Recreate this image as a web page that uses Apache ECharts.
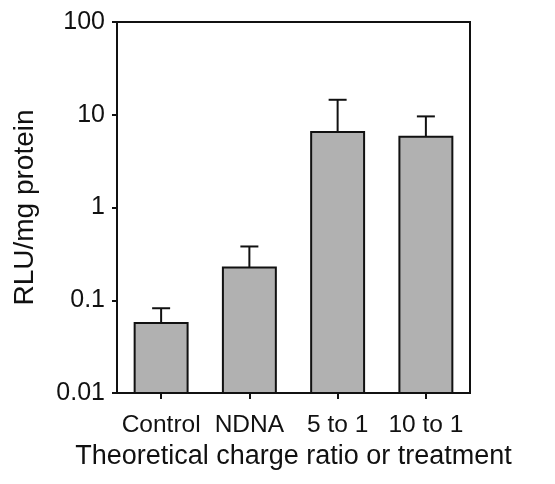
<!DOCTYPE html>
<html><head><meta charset="utf-8">
<script src="https://cdn.jsdelivr.net/npm/echarts@6/dist/echarts.min.js"></script>
<style>html,body{margin:0;padding:0;background:#fff}#c{width:555px;height:484px}</style>
</head><body><div id="c"></div>
<script>
const categories = ['Control', 'NDNA', '5 to 1', '10 to 1'];
const meanValues = [0.057, 0.226, 6.5, 5.8];
const upperErrors = [0.082, 0.38, 14.5, 9.6];
const yTicks = [0.01, 0.1, 1, 10, 100];

const chart = echarts.init(document.getElementById('c'));
const font = 'Liberation Sans, Arial, sans-serif';
const axisMin = yTicks[0];
chart.setOption({
  animation: false,
  grid: { left: 117, right: 85, top: 22, bottom: 91, show: true, borderColor: '#111', borderWidth: 2, backgroundColor: 'transparent' },
  xAxis: {
    type: 'category', data: categories,
    axisLine: { lineStyle: { color: '#111', width: 2 } },
    axisTick: { show: true, alignWithLabel: true, length: 6, lineStyle: { color: '#111', width: 2 } },
    axisLabel: { color: '#111', fontSize: 24.5, fontFamily: font, margin: 20, interval: 0, hideOverlap: false },
    name: 'Theoretical charge ratio or treatment', nameLocation: 'middle', nameGap: 50,
    nameTextStyle: { color: '#111', fontSize: 27, fontFamily: font }
  },
  yAxis: {
    type: 'log', logBase: 10, min: axisMin, max: yTicks[yTicks.length - 1],
    axisLine: { show: true, lineStyle: { color: '#111', width: 2 } },
    axisTick: { show: true, length: 5, lineStyle: { color: '#111', width: 2 } },
    splitLine: { show: false },
    minorTick: { show: false },
    axisLabel: { color: '#111', fontSize: 25, fontFamily: font, margin: 12,
      formatter: v => { const m = yTicks.find(t => Math.abs(Math.log10(t) - Math.log10(v)) < 1e-6); return m !== undefined ? String(m) : ''; } },
    name: 'RLU/mg protein', nameLocation: 'middle', nameGap: 78,
    nameTextStyle: { color: '#111', fontSize: 28, fontFamily: font }
  },
  series: [
    {
      type: 'custom', z: 2,
      data: categories.map((c, i) => [i, meanValues[i]]),
      renderItem: function (params, api) {
        const top = api.coord([api.value(0), api.value(1)]);
        const base = api.coord([api.value(0), axisMin]);
        const w = api.size([1, 0])[0] * 0.6;
        return {
          type: 'rect',
          shape: { x: top[0] - w / 2, y: top[1], width: w, height: base[1] - top[1] },
          style: { fill: '#b1b1b1', stroke: '#111', lineWidth: 2 }
        };
      }
    },
    {
      type: 'custom', z: 1,
      data: categories.map((c, i) => [i, meanValues[i], upperErrors[i]]),
      renderItem: function (params, api) {
        const base = api.coord([api.value(0), api.value(1)]);
        const top = api.coord([api.value(0), api.value(2)]);
        const hw = 9;
        return {
          type: 'group',
          children: [
            { type: 'line', shape: { x1: base[0], y1: base[1], x2: top[0], y2: top[1] }, style: { stroke: '#111', lineWidth: 2 } },
            { type: 'line', shape: { x1: top[0] - hw, y1: top[1], x2: top[0] + hw, y2: top[1] }, style: { stroke: '#111', lineWidth: 2 } }
          ]
        };
      }
    }
  ]
});
</script></body></html>
